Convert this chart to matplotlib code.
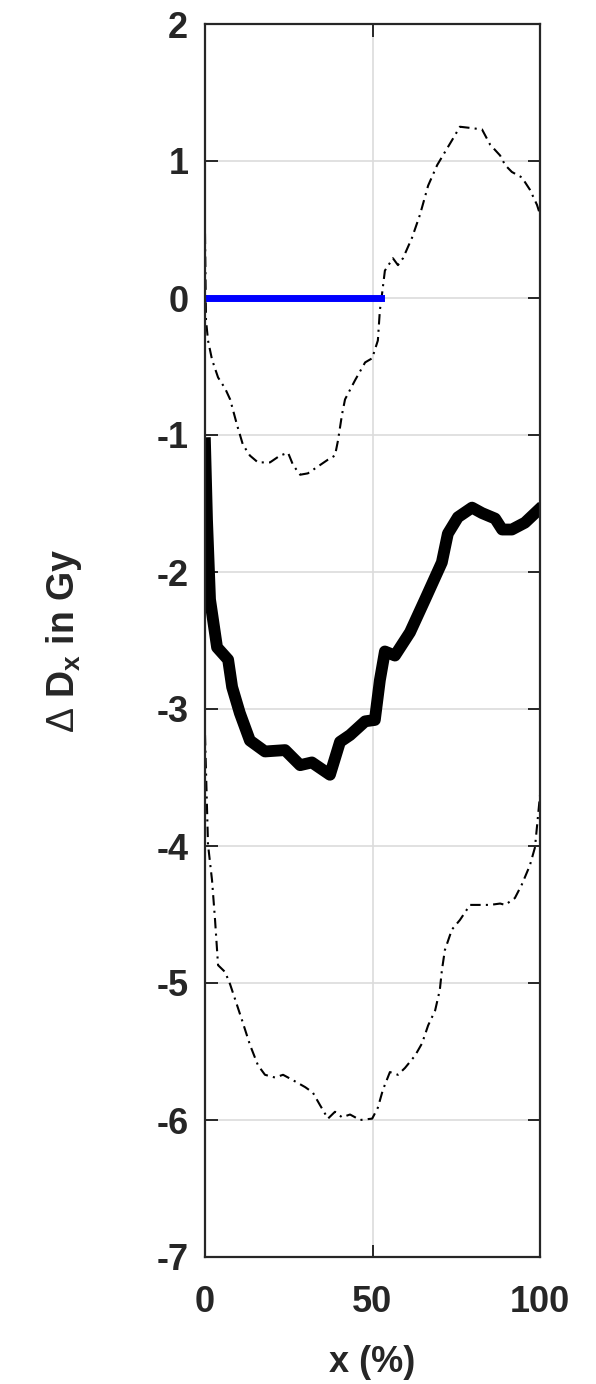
import matplotlib
matplotlib.use("Agg")
import matplotlib.pyplot as plt

plt.rcParams['font.family'] = ['Liberation Sans', 'DejaVu Sans']
plt.rcParams['mathtext.fontset'] = 'custom'
plt.rcParams['mathtext.rm'] = 'Liberation Sans'
plt.rcParams['mathtext.bf'] = 'Liberation Sans:bold'
plt.rcParams['axes.unicode_minus'] = False

# mean difference (thick black)
mean_x = [0, 0.6, 1.5, 3.6, 6.9, 8.1, 10.4, 13.4, 17.9, 23.9, 28.4, 31.9, 37.3,
          40.3, 43.3, 47.8, 50.7, 52.2, 53.7, 56.7, 61.2, 65.7, 70.7, 72.5,
          75.5, 79.7, 82.7, 86.6, 88.7, 91.6, 95.5, 99.4]
mean_y = [-1.06, -1.62, -2.2, -2.55, -2.64, -2.84, -3.03, -3.23, -3.31, -3.30,
          -3.41, -3.39, -3.48, -3.24, -3.19, -3.09, -3.08, -2.79, -2.58, -2.61,
          -2.44, -2.20, -1.93, -1.72, -1.60, -1.53, -1.57, -1.61, -1.69, -1.69,
          -1.64, -1.55]

# upper bound (dash-dot)
upper_x = [0, 0.3, 0.9, 2.1, 3.9, 6.0, 7.5, 9.6, 11.3, 13.4, 15.8, 19.4, 22.4,
           24.8, 26.3, 28.4, 30.7, 33.7, 36.7, 38.8, 39.7, 40.9, 41.8, 44.8,
           47.8, 49.9, 51.6, 52.2, 52.8, 53.7, 56.1, 57.6, 59.1, 61.8, 64.2,
           66.6, 69.3, 71.0, 73.7, 76.1, 79.7, 82.7, 85.1, 88.1, 89.6, 91.6,
           94.6, 97.0, 99.1, 100]
upper_y = [0.47, -0.16, -0.31, -0.45, -0.58, -0.66, -0.74, -0.93, -1.07, -1.15,
           -1.20, -1.20, -1.15, -1.13, -1.22, -1.29, -1.28, -1.23, -1.18, -1.15,
           -1.04, -0.85, -0.74, -0.60, -0.47, -0.44, -0.31, -0.09, 0.02, 0.20,
           0.29, 0.24, 0.29, 0.44, 0.61, 0.82, 0.97, 1.04, 1.15, 1.25, 1.24,
           1.23, 1.12, 1.04, 0.97, 0.92, 0.88, 0.79, 0.68, 0.61]

# lower bound (dash-dot)
lower_x = [0, 0.9, 2.1, 3.0, 3.9, 6.0, 7.5, 9.0, 11.3, 13.4, 15.8, 17.9, 20.9,
           23.3, 26.3, 29.9, 32.2, 34.3, 36.7, 38.8, 40.9, 43.3, 46.3, 49.9,
           51.6, 53.1, 55.2, 57.6, 59.7, 62.7, 64.8, 66.6, 68.7, 70.1, 70.7,
           71.6, 73.7, 76.1, 79.1, 82.1, 85.1, 88.1, 89.6, 92.5, 94.6, 97.0,
           98.5, 100]
lower_y = [-3.19, -3.99, -4.25, -4.54, -4.87, -4.92, -5.01, -5.12, -5.29, -5.45,
           -5.60, -5.67, -5.69, -5.67, -5.71, -5.76, -5.80, -5.89, -5.99, -5.94,
           -5.98, -5.96, -6.00, -5.99, -5.91, -5.78, -5.65, -5.67, -5.62, -5.53,
           -5.44, -5.31, -5.20, -5.05, -4.91, -4.76, -4.61, -4.54, -4.43, -4.43,
           -4.43, -4.42, -4.43, -4.38, -4.28, -4.14, -4.01, -3.63]

# zero reference (blue)
zero_x = [0.5, 52.5]
zero_y = [0, 0]

fig = plt.figure(figsize=(5.96, 13.84), dpi=100)
ax = fig.add_axes([205 / 596, 127 / 1384, 335 / 596, 1233 / 1384])

ax.plot(upper_x, upper_y, color='black', lw=1.5, dashes=(5, 2.5, 1, 2.5))
ax.plot(lower_x, lower_y, color='black', lw=1.5, dashes=(5, 2.5, 1, 2.5))
ax.plot(mean_x, mean_y, color='black', lw=8.5, solid_joinstyle='round')
ax.plot(zero_x, zero_y, color='#0000ff', lw=5)

ax.set_xlim(0, 100)
ax.set_ylim(-7, 2)
ax.set_xticks([0, 50, 100])
ax.set_yticks(range(-7, 3))
ax.grid(True, color='#dcdcdc', lw=1.2)
ax.set_axisbelow(True)

for s in ax.spines.values():
    s.set_color('#262626')
    s.set_linewidth(1.6)
ax.tick_params(direction='in', length=9, width=1.4, color='#262626',
               top=True, right=True, labelsize=26, labelcolor='#262626')
ax.tick_params(axis='x', pad=20)
ax.tick_params(axis='y', pad=12)
for lab in ax.get_xticklabels() + ax.get_yticklabels():
    lab.set_fontweight('bold')

ax.set_xlabel('x (%)', fontsize=26, fontweight='bold', color='#262626', labelpad=18)
ax.set_ylabel(r'$\Delta$ D$_{\mathbf{x}}$ in Gy', fontsize=27, fontweight='bold',
              color='#262626', labelpad=52)

fig.savefig('out.png', dpi=100)
